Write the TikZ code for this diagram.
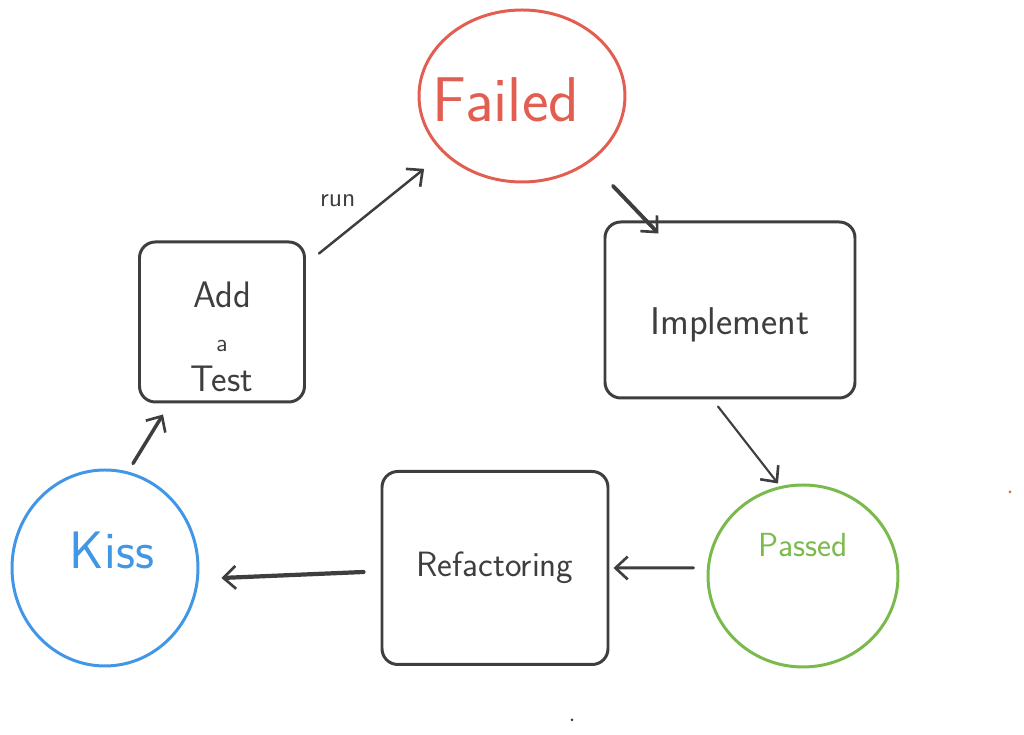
\documentclass[tikz,border=0pt]{standalone}
\usepackage{fontspec}
\usepackage{tikz}
\usetikzlibrary{arrows.meta}
\usetikzlibrary{shapes.geometric,positioning}
\definecolor{penink}{RGB}{62,62,62}
\definecolor{failedred}{RGB}{226,94,80}
\definecolor{passedgreen}{RGB}{122,186,76}
\definecolor{kissblue}{RGB}{66,150,230}
\tikzset{>={Straight Barb[length=7pt,width=13pt,line width=1.5pt]},
  stepbox/.style={draw=penink,line width=1.7pt,rounded corners=9pt,inner sep=0pt},
  steptext/.style={text=penink,align=center,font=\sffamily},
  statering/.style={ellipse,line width=1.7pt,inner sep=0pt},
  flow/.style={draw=penink,->,line cap=round}}

\begin{document}
\begin{tikzpicture}[line cap=round]

  \useasboundingbox (0,0) rectangle (20.48,14.7);

  % states
  \node [statering,draw=failedred,minimum width=4.12cm,minimum height=3.44cm,
    label={[text=failedred,font=\sffamily\fontsize{36}{40}\selectfont,xshift=-0.32cm,yshift=-0.08cm]center:Failed}]
    (failed) at (10.44,12.78) {};
  \node [statering,draw=passedgreen,minimum width=3.8cm,minimum height=3.64cm,
    label={[text=passedgreen,font=\sffamily\fontsize{19}{22}\selectfont,yshift=0.62cm]center:Passed}]
    (passed) at (16.06,3.18) {};
  \node [statering,draw=kissblue,minimum width=3.72cm,minimum height=3.92cm,
    label={[text=kissblue,font=\sffamily\fontsize{30}{34}\selectfont,xshift=0.14cm,yshift=0.36cm]center:Kiss}]
    (kiss) at (2.1,3.34) {};

  % steps
  \node [stepbox,minimum width=3.3cm,minimum height=3.2cm,
    label={[steptext,font=\sffamily\fontsize{21}{23}\selectfont,yshift=-0.3cm]center:Add\\[2pt] {\fontsize{14}{14}\selectfont a}\\ Test}]
    (add) at (4.44,8.26) {};
  \node [stepbox,minimum width=5cm,minimum height=3.52cm,
    label={[steptext,font=\sffamily\fontsize{22}{26}\selectfont,yshift=-0.3cm]center:Implement}]
    (impl) at (14.6,8.5) {};
  \node [stepbox,minimum width=4.52cm,minimum height=3.86cm,
    label={[steptext,font=\sffamily\fontsize{20}{24}\selectfont]center:Refactoring}]
    (refac) at (9.9,3.34) {};

  % cycle
  \draw [flow,line width=1.4pt] ([shift={(0.26,-0.26)}]add.north east)
    -- node [pos=0.3,above left,xshift=0.24cm,yshift=0.28cm,text=penink,
      font=\sffamily\fontsize{15}{17}\selectfont] (runlabel) {run}
    ([shift={(-0.48,-0.22)}]failed.south west);
  \draw [flow,line width=2.2pt] ([shift={(0.34,-0.56)}]failed.south east)
    -- ([shift={(1.1,-0.26)}]impl.north west);
  \draw [flow,line width=1.2pt] ([shift={(-0.24,-0.14)}]impl.south)
    -- ([shift={(-0.5,0)}]passed.north);
  \draw [flow,line width=1.7pt] ([shift={(-0.26,0.16)}]passed.west)
    -- ([shift={(0.08,0)}]refac.east);
  \draw [flow,line width=2.4pt] ([shift={(-0.34,-0.08)}]refac.west)
    -- ([shift={(0.44,-0.2)}]kiss.east);
  \draw [flow,line width=2pt] ([shift={(0.56,0.1)}]kiss.north)
    -- ([shift={(0.5,-0.22)}]add.south west);

  % stray dots
  \fill [failedred] (20.2,4.86) circle (0.03);
  \fill [penink] (11.44,0.3) circle (0.03);

\end{tikzpicture}
\end{document}
